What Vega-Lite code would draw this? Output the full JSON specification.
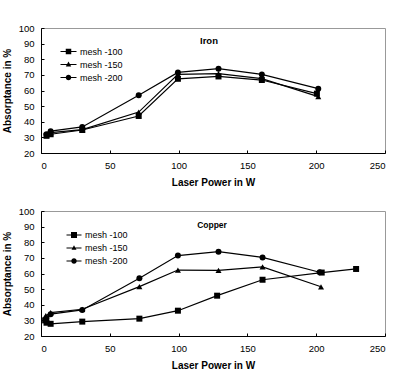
{
  "$schema": "https://vega.github.io/schema/vega-lite/v6.json",
  "autosize": {"type": "pad"},
  "padding": {"left": 1, "top": 22, "right": 0, "bottom": 0},
  "background": "white",
  "spacing": 17,
  "config": {
    "font": "Liberation Sans",
    "view": {"stroke": "#999999", "strokeWidth": 1},
    "axis": {
      "grid": false,
      "domainColor": "black",
      "domainWidth": 1,
      "tickColor": "black",
      "tickSize": -3,
      "labelFont": "Liberation Sans",
      "labelFontSize": 9.5,
      "labelColor": "black",
      "titleFont": "Liberation Sans",
      "titleFontSize": 10,
      "titleFontWeight": "bold",
      "titleColor": "black"
    },
    "axisX": {"labelPadding": 10, "titlePadding": 8},
    "axisY": {"labelPadding": 10, "titlePadding": 6},
    "title": {"font": "Liberation Sans", "fontSize": 9.5, "fontWeight": "bold", "color": "black", "anchor": "middle", "baseline": "middle"},
    "legend": {
      "title": null,
      "orient": "none",
      "padding": 0,
      "symbolSize": 100,
      "rowPadding": 2,
      "labelFont": "Liberation Sans",
      "labelFontSize": 9,
      "labelColor": "black",
      "symbolFillColor": "black",
      "symbolStrokeColor": "black",
      "symbolStrokeWidth": 1,
      "symbolOpacity": 1
    }
  },
  "datasets": {
    "iron": [
      {"mesh": "mesh -100", "power": 4, "absorptance": 31},
      {"mesh": "mesh -100", "power": 7, "absorptance": 32},
      {"mesh": "mesh -100", "power": 30, "absorptance": 34.7},
      {"mesh": "mesh -100", "power": 71, "absorptance": 43.7},
      {"mesh": "mesh -100", "power": 99.5, "absorptance": 67.5},
      {"mesh": "mesh -100", "power": 129, "absorptance": 69},
      {"mesh": "mesh -100", "power": 160.5, "absorptance": 66.7},
      {"mesh": "mesh -100", "power": 200.5, "absorptance": 58},
      {"mesh": "mesh -150", "power": 4, "absorptance": 31.5},
      {"mesh": "mesh -150", "power": 7, "absorptance": 33},
      {"mesh": "mesh -150", "power": 30, "absorptance": 35},
      {"mesh": "mesh -150", "power": 71, "absorptance": 46.2},
      {"mesh": "mesh -150", "power": 99.5, "absorptance": 70.3},
      {"mesh": "mesh -150", "power": 129, "absorptance": 70.8},
      {"mesh": "mesh -150", "power": 160.5, "absorptance": 67.6},
      {"mesh": "mesh -150", "power": 201.5, "absorptance": 56.1},
      {"mesh": "mesh -200", "power": 4, "absorptance": 32},
      {"mesh": "mesh -200", "power": 7, "absorptance": 34},
      {"mesh": "mesh -200", "power": 30, "absorptance": 36.7},
      {"mesh": "mesh -200", "power": 71, "absorptance": 56.9},
      {"mesh": "mesh -200", "power": 99.5, "absorptance": 71.6},
      {"mesh": "mesh -200", "power": 129, "absorptance": 74},
      {"mesh": "mesh -200", "power": 160.5, "absorptance": 70.3},
      {"mesh": "mesh -200", "power": 201.5, "absorptance": 61.2}
    ],
    "copper": [
      {"mesh": "mesh -100", "power": 3, "absorptance": 30},
      {"mesh": "mesh -100", "power": 4, "absorptance": 28.5},
      {"mesh": "mesh -100", "power": 7, "absorptance": 27.8},
      {"mesh": "mesh -100", "power": 30, "absorptance": 29.2},
      {"mesh": "mesh -100", "power": 71.5, "absorptance": 31.1},
      {"mesh": "mesh -100", "power": 99.5, "absorptance": 36.2},
      {"mesh": "mesh -100", "power": 128, "absorptance": 45.8},
      {"mesh": "mesh -100", "power": 161, "absorptance": 56},
      {"mesh": "mesh -100", "power": 204, "absorptance": 60.6},
      {"mesh": "mesh -100", "power": 229, "absorptance": 62.9},
      {"mesh": "mesh -150", "power": 3.5, "absorptance": 33},
      {"mesh": "mesh -150", "power": 7, "absorptance": 35},
      {"mesh": "mesh -150", "power": 30, "absorptance": 37.1},
      {"mesh": "mesh -150", "power": 71.5, "absorptance": 51.6},
      {"mesh": "mesh -150", "power": 99.5, "absorptance": 62.2},
      {"mesh": "mesh -150", "power": 129, "absorptance": 62},
      {"mesh": "mesh -150", "power": 161, "absorptance": 64.2},
      {"mesh": "mesh -150", "power": 203.5, "absorptance": 51.5},
      {"mesh": "mesh -200", "power": 4, "absorptance": 31.5},
      {"mesh": "mesh -200", "power": 7, "absorptance": 34},
      {"mesh": "mesh -200", "power": 30, "absorptance": 36.7},
      {"mesh": "mesh -200", "power": 71.5, "absorptance": 56.9},
      {"mesh": "mesh -200", "power": 99.5, "absorptance": 71.5},
      {"mesh": "mesh -200", "power": 129, "absorptance": 74},
      {"mesh": "mesh -200", "power": 161, "absorptance": 70.3},
      {"mesh": "mesh -200", "power": 202.5, "absorptance": 60.8}
    ]
  },
  "vconcat": [
    {
      "width": 344,
      "height": 125,
      "data": {"name": "iron"},
      "title": {"text": "Iron", "offset": -22, "dx": -4},
      "encoding": {
        "x": {"field": "power", "type": "quantitative", "scale": {"domain": [0, 250], "nice": false}, "axis": {"values": [0, 50, 100, 150, 200, 250], "title": "Laser Power in W"}},
        "y": {"field": "absorptance", "type": "quantitative", "scale": {"domain": [20, 100], "nice": false, "zero": false}, "axis": {"values": [20, 30, 40, 50, 60, 70, 80, 90, 100], "title": "Absorptance in %"}}
      },
      "layer": [
        {"mark": {"type": "line", "color": "black", "strokeWidth": 1.2}, "encoding": {"detail": {"field": "mesh"}}},
        {
          "mark": {"type": "point", "filled": true, "color": "black", "opacity": 1, "size": 36},
          "encoding": {
            "shape": {"field": "mesh", "type": "nominal", "scale": {"domain": ["mesh -100", "mesh -150", "mesh -200"], "range": ["square", "triangle-up", "circle"]}, "legend": null}
          }
        },
        {
          "mark": {"type": "point", "filled": false, "fill": "black", "stroke": "black", "strokeWidth": 1, "opacity": 0},
          "encoding": {
            "shape": {
              "field": "mesh", "type": "nominal",
              "scale": {"domain": ["mesh -100", "mesh -150", "mesh -200"], "range": ["M-1.6,-0.12L1.6,-0.12L1.6,0.12L-1.6,0.12ZM-0.55,-0.55L0.55,-0.55L0.55,0.55L-0.55,0.55Z", "M-1.6,-0.12L1.6,-0.12L1.6,0.12L-1.6,0.12ZM0,-0.6L0.55,0.4L-0.55,0.4Z", "M-1.6,-0.12L1.6,-0.12L1.6,0.12L-1.6,0.12ZM0.55,0A0.55,0.55,0,1,1,-0.55,0A0.55,0.55,0,1,1,0.55,0Z"]},
              "legend": {"legendX": 22, "legendY": 18, "labelOffset": 6}
            }
          }
        }
      ],
      "resolve": {"scale": {"shape": "independent"}, "legend": {"shape": "independent"}}
    },
    {
      "width": 344,
      "height": 125,
      "data": {"name": "copper"},
      "title": {"text": "Copper", "offset": -23, "dx": -1, "fontSize": 8.5},
      "encoding": {
        "x": {"field": "power", "type": "quantitative", "scale": {"domain": [0, 250], "nice": false}, "axis": {"values": [0, 50, 100, 150, 200, 250], "title": "Laser Power in W"}},
        "y": {"field": "absorptance", "type": "quantitative", "scale": {"domain": [20, 100], "nice": false, "zero": false}, "axis": {"values": [20, 30, 40, 50, 60, 70, 80, 90, 100], "title": "Absorptance in %"}}
      },
      "layer": [
        {"mark": {"type": "line", "color": "black", "strokeWidth": 1.2}, "encoding": {"detail": {"field": "mesh"}}},
        {
          "mark": {"type": "point", "filled": true, "color": "black", "opacity": 1, "size": 36},
          "encoding": {
            "shape": {"field": "mesh", "type": "nominal", "scale": {"domain": ["mesh -100", "mesh -150", "mesh -200"], "range": ["square", "triangle-up", "circle"]}, "legend": null}
          }
        },
        {
          "mark": {"type": "point", "filled": false, "fill": "black", "stroke": "black", "strokeWidth": 1, "opacity": 0},
          "encoding": {
            "shape": {
              "field": "mesh", "type": "nominal",
              "scale": {"domain": ["mesh -100", "mesh -150", "mesh -200"], "range": ["M-1.5,-0.12L1.5,-0.12L1.5,0.12L-1.5,0.12ZM-0.6,-0.6L0.6,-0.6L0.6,0.6L-0.6,0.6Z", "M-1.5,-0.12L1.5,-0.12L1.5,0.12L-1.5,0.12ZM0,-0.55L0.5,0.35L-0.5,0.35Z", "M-1.5,-0.12L1.5,-0.12L1.5,0.12L-1.5,0.12ZM0.55,0A0.55,0.55,0,1,1,-0.55,0A0.55,0.55,0,1,1,0.55,0Z"]},
              "legend": {"legendX": 27.5, "legendY": 18.5, "labelOffset": 5.5}
            }
          }
        }
      ],
      "resolve": {"scale": {"shape": "independent"}, "legend": {"shape": "independent"}}
    }
  ]
}
